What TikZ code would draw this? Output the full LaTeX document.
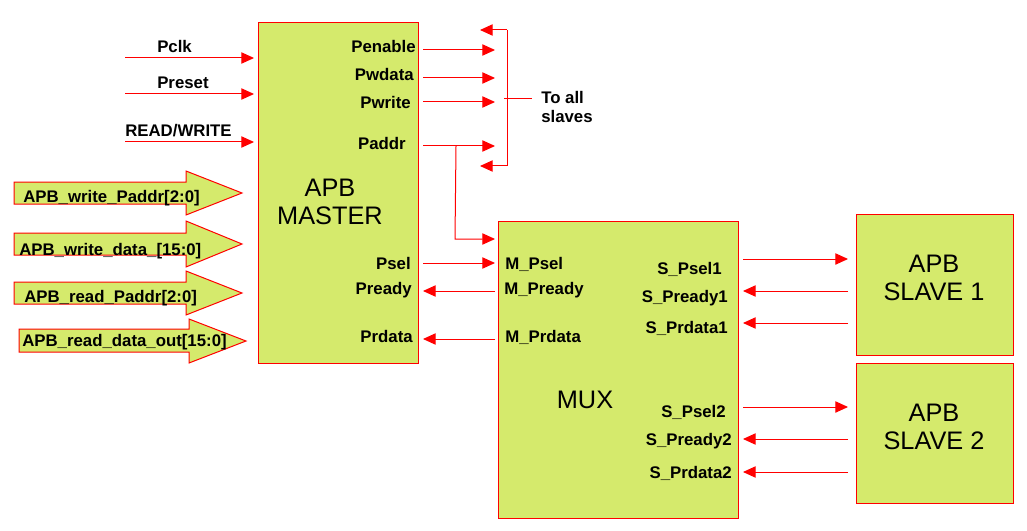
\documentclass[tikz,border=0pt]{standalone}
\usepackage{fontspec}
\setmainfont{Liberation Sans}
\usetikzlibrary{arrows.meta}
\definecolor{boxgreen}{RGB}{213,234,108}
\definecolor{lred}{RGB}{255,0,0}
\tikzset{
  blk/.style={draw=lred, line width=0.9pt, fill=boxgreen, anchor=north west, inner sep=0pt},
  big/.style={font=\fontsize{19}{21}\selectfont, align=center, inner sep=0pt},
  lbl/.style={font=\bfseries\fontsize{12.6}{14}\selectfont, inner sep=0pt, text height=9pt, text depth=0pt},
  sig/.style={draw=lred, line width=0.75pt, -{Triangle[length=9.5pt,width=8.5pt]}},
  fat/.style={draw=lred, line width=0.75pt, fill=boxgreen, line join=miter},
}
\begin{document}
\begin{tikzpicture}[x=0.75pt,y=-0.75pt]
\useasboundingbox (0,0) rectangle (1027,531);

% blocks
\node[blk, minimum width=120pt, minimum height=255.75pt] (master) at (258,22) {};
\node[blk, minimum width=180pt, minimum height=222.75pt] (mux) at (498,221) {};
\node[blk, minimum width=117.75pt, minimum height=105.75pt] (slave1) at (856,214) {};
\node[blk, minimum width=117.75pt, minimum height=105pt] (slave2) at (856,363) {};

\node[big] (mastertxt) at (330,202) {APB\\MASTER};
\node[big] (muxtxt) at (585,400) {MUX};
\node[big] (s1txt) at (934,278) {APB\\SLAVE 1};
\node[big] (s2txt) at (934,427) {APB\\SLAVE 2};

% input signals
\coordinate (pclkA) at (125,58);  \coordinate (pclkB) at (254,58);
\coordinate (presA) at (125,94);  \coordinate (presB) at (254,94);
\coordinate (rwA) at (125,142);   \coordinate (rwB) at (254,142);
\draw[sig] (pclkA) -- (pclkB);
\draw[sig] (presA) -- (presB);
\draw[sig] (rwA) -- (rwB);
\node[lbl, anchor=west] (pclk) at (157,47) {Pclk};
\node[lbl, anchor=west] (preset) at (157,83) {Preset};
\node[lbl, anchor=west] (rw) at (125,131) {READ/WRITE};

% fat arrows
\draw[fat] (14,182) -- (186,182) -- (186,171) -- (242,193) -- (186,215) -- (186,204) -- (14,204) -- cycle;
\draw[fat] (14,233) -- (186,233) -- (186,221) -- (242,244) -- (186,267) -- (186,255) -- (14,255) -- cycle;
\draw[fat] (14,282) -- (186,282) -- (186,271) -- (242,293) -- (186,315) -- (186,304) -- (14,304) -- cycle;
\draw[fat] (19,329) -- (189,329) -- (189,319) -- (246,341) -- (189,363) -- (189,352) -- (19,352) -- cycle;
\node[lbl, anchor=west] (fa1) at (23,196) {APB\_write\_Paddr[2:0]};
\node[lbl, anchor=west] (fa2) at (19,249) {APB\_write\_data\_[15:0]};
\node[lbl, anchor=west] (fa3) at (24,296) {APB\_read\_Paddr[2:0]};
\node[lbl, anchor=west] (fa4) at (22,340) {APB\_read\_data\_out[15:0]};

% master output labels
\node[lbl, anchor=east] (penable) at (416,47) {Penable};
\node[lbl, anchor=east] (pwdata) at (414,75) {Pwdata};
\node[lbl, anchor=east] (pwrite) at (411,103) {Pwrite};
\node[lbl, anchor=east] (paddr) at (406,144) {Paddr};
\node[lbl, anchor=east] (psel) at (411,263) {Psel};
\node[lbl, anchor=east] (pready) at (412,288) {Pready};
\node[lbl, anchor=east] (prdata) at (413,336) {Prdata};

% master outputs to slaves
\coordinate (penA) at (423,50);  \coordinate (penB) at (495,50);
\coordinate (pwdA) at (423,78);  \coordinate (pwdB) at (495,78);
\coordinate (pwrA) at (423,102); \coordinate (pwrB) at (495,102);
\coordinate (padA) at (423,146); \coordinate (padB) at (495,146);
\draw[sig] (penA) -- (penB);
\draw[sig] (pwdA) -- (pwdB);
\draw[sig] (pwrA) -- (pwrB);
\draw[sig] (padA) -- (padB);

% bracket
\coordinate (brT) at (507,30); \coordinate (brB) at (507,166);
\coordinate (brTt) at (480,30); \coordinate (brBt) at (480,166);
\coordinate (brM) at (504,99); \coordinate (brMe) at (532,99);
\draw[sig] (brT) -- (brTt);
\draw[sig] (brB) -- (brBt);
\draw[draw=lred, line width=0.75pt] (brT) -- (brB);
\draw[draw=lred, line width=0.75pt] (brM) -- (brMe);
\node[font=\bfseries\fontsize{12.6}{14.5}\selectfont, align=left, anchor=north west, inner sep=0pt] (toall) at (541,91) {To all\\slaves};

% Paddr branch to MUX
\coordinate (padBr) at (456,146);
\coordinate (padDn) at (455,239);
\coordinate (padM) at (495,239);
\draw[sig] (padBr) -- (padDn) -- (padM);

% master <-> mux
\coordinate (pselA) at (423,263); \coordinate (pselB) at (495,263);
\coordinate (prdyA) at (495,291); \coordinate (prdyB) at (423,291);
\coordinate (prdA) at (495,339);  \coordinate (prdB) at (423,339);
\draw[sig] (pselA) -- (pselB);
\draw[sig] (prdyA) -- (prdyB);
\draw[sig] (prdA) -- (prdB);

% MUX labels
\node[lbl, anchor=west] (mpsel) at (505,263) {M\_Psel};
\node[lbl, anchor=west] (mpready) at (504,288) {M\_Pready};
\node[lbl, anchor=west] (mprdata) at (505,336) {M\_Prdata};
\node[lbl, anchor=east] (sps1) at (722,268) {S\_Psel1};
\node[lbl, anchor=east] (spr1) at (728,296) {S\_Pready1};
\node[lbl, anchor=east] (sprd1) at (728,327) {S\_Prdata1};
\node[lbl, anchor=east] (sps2) at (726,411) {S\_Psel2};
\node[lbl, anchor=east] (spr2) at (732,439) {S\_Pready2};
\node[lbl, anchor=east] (sprd2) at (732,472) {S\_Prdata2};

% mux <-> slaves
\coordinate (s1a) at (743,259); \coordinate (s1b) at (848,259);
\coordinate (s1c) at (848,291); \coordinate (s1d) at (743,291);
\coordinate (s1e) at (848,323); \coordinate (s1f) at (743,323);
\coordinate (s2a) at (743,407); \coordinate (s2b) at (848,407);
\coordinate (s2c) at (848,439); \coordinate (s2d) at (743,439);
\coordinate (s2e) at (848,472); \coordinate (s2f) at (743,472);
\draw[sig] (s1a) -- (s1b);
\draw[sig] (s1c) -- (s1d);
\draw[sig] (s1e) -- (s1f);
\draw[sig] (s2a) -- (s2b);
\draw[sig] (s2c) -- (s2d);
\draw[sig] (s2e) -- (s2f);
\end{tikzpicture}
\end{document}
